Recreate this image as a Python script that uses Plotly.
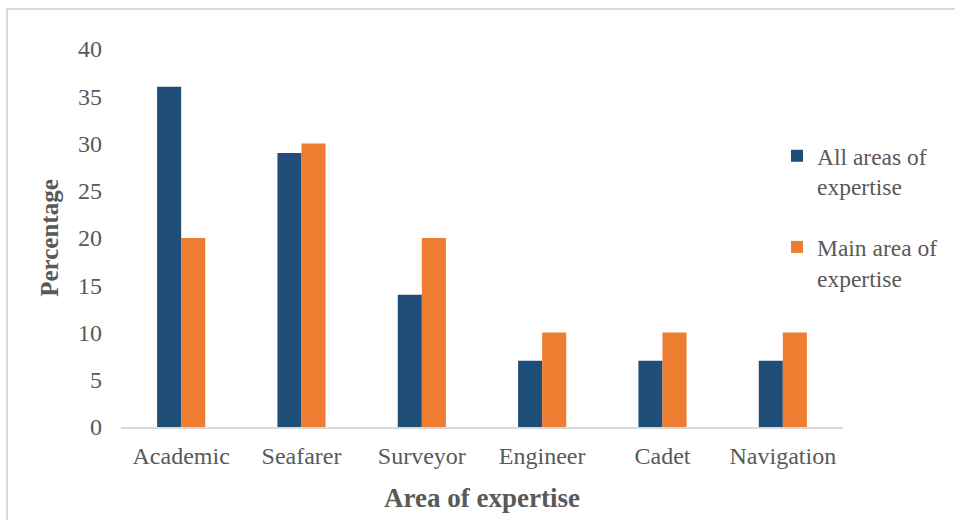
import plotly.graph_objects as go

categories = ["Academic", "Seafarer", "Surveyor", "Engineer", "Cadet", "Navigation"]
all_areas = [36, 29, 14, 7, 7, 7]
main_area = [20, 30, 20, 10, 10, 10]
series_names = ["All areas of<br>expertise", "Main area of<br>expertise"]
y_ticks = [0, 5, 10, 15, 20, 25, 30, 35, 40]

FONT = "Liberation Serif, Times New Roman, serif"
GREY = "#595959"

fig = go.Figure()
fig.add_trace(go.Bar(x=categories, y=all_areas, name=series_names[0],
                     marker=dict(color="#1F4E79", line=dict(width=0)),
                     legendgroup="a"))
fig.add_trace(go.Bar(x=categories, y=main_area, name=series_names[1],
                     marker=dict(color="#ED7D31", line=dict(width=0)),
                     legendgroup="b"))

fig.update_layout(
    width=955, height=520,
    margin=dict(l=121, r=112, t=49, b=93, autoexpand=False),
    paper_bgcolor="white", plot_bgcolor="white",
    barmode="group", bargap=0.6, bargroupgap=0,
    font=dict(family=FONT, size=24, color=GREY),
    legend=dict(x=(777 - 121) / 722, y=(427 - 134) / 378,
                xanchor="left", yanchor="top",
                font=dict(family=FONT, size=23.5, color=GREY),
                tracegroupgap=27, valign="top",
                bgcolor="rgba(0,0,0,0)"),
    xaxis=dict(showline=True, linecolor="#D9D9D9", linewidth=2,
               showgrid=False, ticks="", zeroline=False,
               ticklabelstandoff=6,
               title=dict(text="<b>Area of expertise</b>",
                          font=dict(family=FONT, size=27, color=GREY),
                          standoff=20)),
    yaxis=dict(range=[0, 40], tickvals=y_ticks, showgrid=False,
               showline=False, zeroline=False, ticks="",
               ticklabelstandoff=18,
               title=dict(text="<b>Percentage</b>",
                          font=dict(family=FONT, size=25, color=GREY),
                          standoff=12)),
    shapes=[dict(type="rect", xref="paper", yref="paper",
                 x0=(7 - 121) / 722, x1=(965 - 121) / 722,
                 y0=-(535 - 427) / 378, y1=(427 - 9) / 378,
                 line=dict(color="#D9D9D9", width=2),
                 fillcolor="rgba(0,0,0,0)", layer="below")],
)

fig.write_html("out.html")
